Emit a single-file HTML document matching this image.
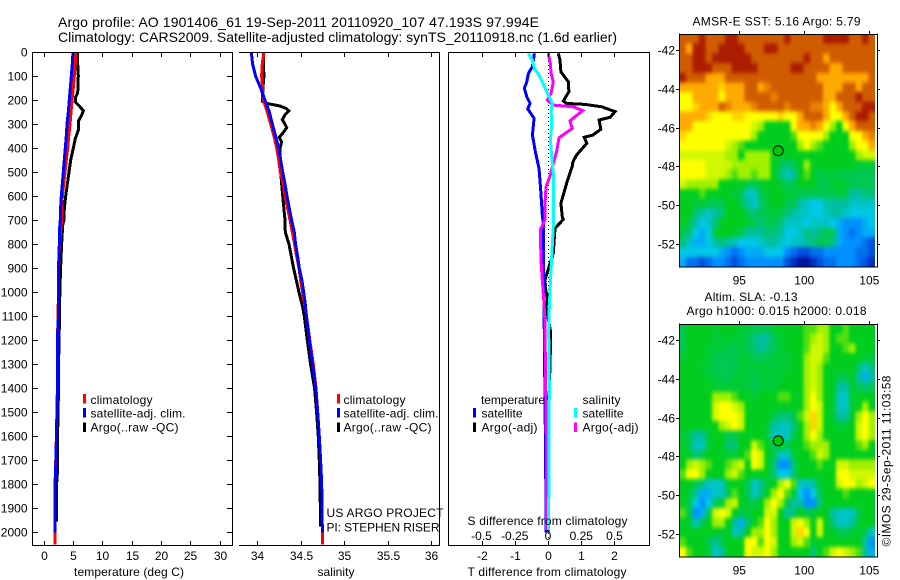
<!DOCTYPE html>
<html>
<head>
<meta charset="utf-8">
<title>Argo profile</title>
<style>
html,body{margin:0;padding:0;background:#fff;}
svg{display:block;font-family:"Liberation Sans",sans-serif;font-size:12px;fill:#000;}
</style>
</head>
<body>
<svg id="fig" xmlns="http://www.w3.org/2000/svg" width="900" height="580" viewBox="0 0 900 580">
<defs>
<filter id="smooth" filterUnits="userSpaceOnUse" x="660" y="10" width="240" height="570" color-interpolation-filters="sRGB">
<feGaussianBlur stdDeviation="1.5 2.2"/>
</filter>
<clipPath id="clip-sst"><rect x="679.5" y="34" width="195.5" height="232.5"/></clipPath>
<clipPath id="clip-sla"><rect x="679.5" y="324" width="195.5" height="232.5"/></clipPath>
</defs>
<rect x="0" y="0" width="900" height="580" fill="#fff"/>
<g id="maps"></g>
<g id="lines"></g>
<g id="axes" shape-rendering="crispEdges" stroke="#000" stroke-width="1" fill="none"></g>
<g id="labels"></g>

<text x="58" y="27" font-size="14" textLength="481" lengthAdjust="spacing">Argo profile: AO 1901406_61 19-Sep-2011 20110920_107 47.193S 97.994E</text>
<text x="58" y="42" font-size="14" textLength="559" lengthAdjust="spacing">Climatology: CARS2009. Satellite-adjusted climatology: synTS_20110918.nc (1.6d earlier)</text>

<text x="74" y="576" textLength="110" lengthAdjust="spacing">temperature (deg C)</text>
<text x="317.5" y="576" textLength="37" lengthAdjust="spacing">salinity</text>
<text x="467.5" y="576" textLength="159" lengthAdjust="spacing">T difference from climatology</text>
<text x="467.5" y="525" textLength="160" lengthAdjust="spacing">S difference from climatology</text>

<g>
<rect x="83" y="394" width="3" height="9.5" fill="#f00"/>
<rect x="83" y="408" width="3" height="9.5" fill="#00f"/>
<rect x="83" y="422.5" width="3" height="9.5" fill="#000"/>
<text x="90.5" y="404" textLength="62" lengthAdjust="spacing">climatology</text>
<text x="90.5" y="417.5" textLength="95" lengthAdjust="spacing">satellite-adj. clim.</text>
<text x="90.5" y="431.5" textLength="88" lengthAdjust="spacing">Argo(..raw -QC)</text>
</g>
<g>
<rect x="337" y="394" width="3" height="9.5" fill="#f00"/>
<rect x="337" y="408" width="3" height="9.5" fill="#00f"/>
<rect x="337" y="422.5" width="3" height="9.5" fill="#000"/>
<text x="343.5" y="404" textLength="62" lengthAdjust="spacing">climatology</text>
<text x="343.5" y="417.5" textLength="95" lengthAdjust="spacing">satellite-adj. clim.</text>
<text x="343.5" y="431.5" textLength="88" lengthAdjust="spacing">Argo(..raw -QC)</text>
</g>
<g>
<text x="481" y="404" textLength="64" lengthAdjust="spacing">temperature</text>
<rect x="473" y="408" width="3" height="9.5" fill="#00f"/>
<rect x="473" y="422.5" width="3" height="9.5" fill="#000"/>
<text x="481.5" y="417.5" textLength="41" lengthAdjust="spacing">satellite</text>
<text x="481.5" y="431.5" textLength="56" lengthAdjust="spacing">Argo(-adj)</text>
<text x="582.5" y="404" textLength="38" lengthAdjust="spacing">salinity</text>
<rect x="574" y="408" width="3" height="9.5" fill="#0ff"/>
<rect x="574" y="422.5" width="3" height="9.5" fill="#f0f"/>
<text x="582.5" y="417.5" textLength="41" lengthAdjust="spacing">satellite</text>
<text x="582.5" y="431.5" textLength="56" lengthAdjust="spacing">Argo(-adj)</text>
</g>
<text x="326.5" y="517" textLength="117" lengthAdjust="spacing">US ARGO PROJECT</text>
<text x="326.5" y="531.5" textLength="113" lengthAdjust="spacing">PI: STEPHEN RISER</text>

<text x="692.5" y="25.5" textLength="168" lengthAdjust="spacing">AMSR-E SST: 5.16 Argo: 5.79</text>
<text x="704.5" y="301" textLength="93" lengthAdjust="spacing">Altim. SLA: -0.13</text>
<text x="686.5" y="315" textLength="180" lengthAdjust="spacing">Argo h1000: 0.015 h2000: 0.018</text>
<text transform="translate(890.5,546.5) rotate(-90)" x="0" y="0" textLength="171" lengthAdjust="spacing">©IMOS 29-Sep-2011 11:03:58</text>
</svg>

<script>
// ---- temperature panel data ----
var argoTDepth = [0,50,100,170,190,210,225,245,265,285,320,345,360,400,450,500,550,600,650,700,720,800,900,1000,1100,1200,1300,1390,1500,1600,1750,1800,1955];
var argoT = [5.76,5.82,5.93,5.82,5.42,5.48,6.10,6.79,6.45,5.99,5.99,5.65,5.42,5.08,4.63,4.34,4.06,3.78,3.55,3.49,3.27,3.09,2.92,2.78,2.75,2.64,2.58,2.58,2.47,2.41,2.36,2.24,2.19];
var climTDepth = [0,50,100,150,200,250,300,350,400,450,500,550,600,650,700,800,900,1000,1200,1400,1600,1800,2000,2050];
var climT = [5.54,5.42,5.25,5.08,4.86,4.68,4.51,4.29,4.12,3.89,3.66,3.44,3.21,3.15,3.09,2.75,2.58,2.55,2.38,2.36,2.19,1.98,1.96,1.96];
var satTDepth = [0,50,100,150,200,250,300,350,400,450,500,550,600,650,700,750,800,850,900,1000,1100,1200,1300,1400,1500,1600,1700,1800,1900,2000];
var satT = [5.03,4.91,4.74,4.57,4.40,4.23,4.00,3.89,3.72,3.55,3.38,3.21,3.04,2.92,2.87,2.70,2.70,2.64,2.53,2.53,2.53,2.36,2.36,2.36,2.30,2.19,2.13,1.96,1.96,1.96];

// ---- salinity panel data ----
var argoSDepth = [0,50,100,130,190,205,215,225,235,245,262,282,295,315,335,355,375,400,500,600,700,750,800,900,1000,1060,1100,1200,1300,1400,1500,1600,1700,1800,1975];
var argoS = [34.069,34.069,34.077,34.069,34.058,34.058,34.119,34.261,34.330,34.361,34.319,34.288,34.311,34.338,34.299,34.253,34.280,34.261,34.269,34.292,34.319,34.322,34.365,34.418,34.480,34.522,34.541,34.576,34.614,34.660,34.683,34.702,34.714,34.722,34.729];
var climSDepth = [0,50,100,150,200,250,300,350,400,450,500,550,600,650,700,750,800,850,900,950,1000,1050,1100,1200,1300,1400,1500,1600,1700,1800,1900,2000,2050];
var climS = [34.077,34.058,34.050,34.061,34.069,34.115,34.154,34.192,34.223,34.246,34.265,34.299,34.319,34.349,34.376,34.403,34.430,34.453,34.480,34.499,34.522,34.545,34.568,34.605,34.645,34.676,34.695,34.714,34.729,34.741,34.745,34.749,34.749];
var satSDepth = [0,50,100,150,200,250,300,350,400,450,500,550,600,650,700,750,800,850,900,950,1000,1050,1100,1200,1300,1400,1500,1600,1700,1800,1900,2000];
var satS = [33.931,33.946,33.981,34.038,34.088,34.138,34.173,34.211,34.246,34.269,34.292,34.319,34.342,34.369,34.395,34.426,34.441,34.464,34.484,34.514,34.534,34.553,34.564,34.599,34.637,34.672,34.695,34.714,34.729,34.741,34.745,34.749];

// ---- difference panel data ----
var argoDTDepth = [6,33,83,124,165,204,214,218,228,248,272,283,322,346,355,380,429,457,477,547,630,686,697,734,838,894,949,991,1026,1060,1157,1255,1449,1783,2000];
var argoDT = [0.31,0.36,0.39,0.61,0.63,0.46,0.56,1.11,1.62,2.02,1.87,1.54,1.59,1.35,1.09,1.17,0.86,0.75,0.73,0.56,0.39,0.43,0.46,0.21,0.16,0.03,-0.09,-0.07,-0.01,-0.06,0.07,0.07,0.03,0.02,0];
var satDTDepth = [6,61,89,124,151,186,214,237,276,346,422,484,575,686,713,921,1060,1171,1449,1727,2000];
var satDT = [-0.41,-0.47,-0.59,-0.64,-0.71,-0.64,-0.54,-0.61,-0.42,-0.47,-0.37,-0.27,-0.22,-0.17,-0.14,-0.14,-0.12,-0.11,-0.09,-0.07,-0.06];
var argoDSDepth = [6,47,89,124,172,200,221,228,244,287,318,357,415,477,512,561,644,699,741,866,949,1046,1116,1379,1727,1990];
var argoDS = [0.0025,0.0175,0.023,0.04,0.023,-0.005,0.04,0.19,0.26,0.165,0.183,0.083,0.065,0.033,0.018,-0.015,-0.023,-0.023,-0.058,-0.053,-0.043,-0.03,-0.023,-0.018,-0.01,-0.01];
var satDSDepth = [6,33,68,103,144,179,214,241,297,366,436,505,727,852,991,1088,1171,1379,1727,1990];
var satDS = [-0.148,-0.118,-0.103,-0.06,-0.028,0.0025,0.033,0.023,0.028,0.018,0.028,0.04,0.04,0.028,0.015,0.008,0.005,0.01,0.008,0.003];

// ---- tick labels ----
var depthTicks = [0,100,200,300,400,500,600,700,800,900,1000,1100,1200,1300,1400,1500,1600,1700,1800,1900,2000];
var tempTicks = [0,5,10,15,20,25,30];
var salTicks = [34,34.5,35,35.5,36];
var dTTicks = [-2,-1,0,1,2];
var dSTicks = [-0.5,-0.25,0,0.25,0.5];
var lonTicks = [95,100,105];
var latTicks = [-42,-44,-46,-48,-50,-52];
var floatLon = 97.994;
var floatLat = -47.193;

// ---- SST map: colour-scale level per cell, north to south ----
var sstValues = [
[10,10,10,11,10,10,10,11,11,10,10,10,10,10,10,10,11,10,10,10,10,10,11,11,11,11,10,10,11,10],
[10,9,11,11,10,10,11,11,11,11,10,10,10,11,11,10,10,10,10,10,10,10,10,10,10,10,10,10,10,10],
[10,10,11,11,10,11,11,11,11,11,11,10,10,10,10,10,10,10,10,11,10,10,9,10,10,10,10,10,10,10],
[10,10,11,11,11,10,10,10,11,11,11,11,10,10,10,10,10,11,11,10,10,10,10,9,9,10,10,10,10,10],
[11,10,10,10,9,9,9,10,10,10,10,10,10,10,10,10,10,10,10,10,10,9,9,9,9,9,9,9,9,10],
[9,9,9,9,9,9,8.5,9,9,9,10,10,9,9.5,10,10,10,10,10,10,10,10,9,9,9,10,10,9,10,10],
[8,8,9,9,9,9,8,9,9,9,10,10,10,10,9.5,10,10,10,10,10,10,10,9,9,10,10,10,11,10,10],
[8,8,8.5,9,9,9,10,9.5,9,9,9,9.5,10,10,10,10,9.5,10,10,10,9.5,9.5,9,8,9,10,10,10,11,11],
[9,9,9,9,8.5,8,8,8,8.5,8.5,8,8,8,8,8,8.5,8,8,9,10,10,10,9,8,8,9,10,11,11,10],
[9,9,8,8,8,8,8,8,8,8,8,7.5,7,6,6,6,6,8,9,9,9.5,9,8,7,6,8,9,10,10,10],
[8.5,8,8,8,8,8,8,8,8,8,8,7,6,6,6,6,6,6.5,8,8,8,8,7,6,6,6,8,8,9,9.5],
[8,8,8,8,8,8,8,7.5,7,6.5,6,6,6,6,6,6,6,6,7,8,7,6.5,6,6,6,6,7,8,8,9],
[7.5,7.5,7.5,7.5,7.5,7.5,7.5,7,7,6,7,7,7,7,6,6,6,6,6,6,6,6,6,6,6,6,6,7,7.5,7.5],
[8,8,8,8,7.5,7.5,7.5,7.5,7,7,7,7,7,7,6,5,4.5,5,6,7,6,6,6,6,6,6,6,5.5,5.5,5.5],
[8,8,8,8,7.5,7.5,7.5,7,6.5,7,7,6.5,7,7,6,4.5,3.5,4,6,6.5,6,5,5.5,5.5,5,5,5,5,5,5],
[7.5,7,7,7,7,7,6,6,6,6,5,5,5.5,6,6,5.5,5,5,6,6,6,5,5,5.5,6,5.5,5,5,5,5],
[6,6,6,6.5,6,6,6,6,5.5,5,3.5,3.5,5,5.5,6,6,5.5,5.5,5,5,5,5,5,5,5.5,5,4,4,4.5,4.5],
[6,6,5.5,5.5,5,5,5,6,6,5,4,3.5,4.5,5.5,6,6,5,5,4,3.5,3,3,4,4,4,4,3.5,3.5,3.5,3.5],
[6,6,4.5,4,3.5,4,4.5,6,6,6,5,4.5,5,5,5.5,5,4.5,4,3.5,3.5,3,3,3.5,4,4,3.5,3,3,3,3],
[6,5,4,3,3.5,4.5,6,6,6,6,5.5,5,4.5,5,5,4.5,3.5,3.5,3.5,3,3.5,3.5,3.5,3,2.5,2,2,2,2.5,3],
[5,4.5,3,2.5,3,5.5,6,6,5.5,5,4,4,4,4.5,4.5,4,3,3,3.5,4.5,4,4.5,5,5,2.5,2,1.5,2,2.5,2.5],
[4.5,3.5,2.5,2.5,3,4,4.5,4,3.5,3,3,3,3.5,4,4,3.5,3,3.5,3.5,4,4.5,5,5,4.5,2.5,2,2,2,1.5,1],
[3,3,3,3,3,3,2.5,2,1.5,2,2.5,2.5,2.5,3,3,3,2,1.5,1,1,1.5,1.5,2,2,2,2,2,1.5,1.5,1],
[2.5,1.5,1.5,1,1.5,2,2,1.5,1,1.5,2,2,2,2,2,2,1,0.5,0,0,0.5,1,1.5,1.5,2,2,2,1.5,1,0.5]
];

// ---- sea level anomaly map: colour-scale level per cell, north to south ----
var slaValues = [
[5,6,6,6,6,5.5,6,6,6,5.5,5.5,5,5,5,5.5,6,6,6,6,6.5,6.5,7,7,6,6,6.5,6,6,6,6],
[5,6,6,6,6,5.5,5.5,6,5.5,5.5,5,4.5,4,4,5,5.5,6,6,6,6.5,7,7.5,7,6,6.5,6.5,6,6,6,6],
[5,6,6,6,5.5,5.5,5.5,5,5,5.5,5,4.5,4,4.5,5,5.5,6,6,6,6.5,7.5,7.5,7,6,6,6.5,7,6,6,6],
[5.5,6,6,6,5.5,5,5,5,5,5.5,5.5,5,5,5,5.5,5.5,5.5,6,6,7,7.5,7.5,6.5,6,6,6,6,6,5.5,5.5],
[6,6,6,5.5,5.5,5,5,5,5,5.5,5.5,5.5,5.5,5.5,5.5,5.5,5.5,6,6,7,7.5,7,6,6,6,6,6,4.5,3.5,4.5],
[6,6,6,6,5.5,5.5,5,5,5.5,5.5,5.5,5,5.5,5.5,5.5,5.5,6,6,6,7,7.5,7,6,6,5,5,6,4,2.5,4],
[6,6,6,6,6,5.5,5.5,5.5,5.5,5.5,5.5,5,5.5,5.5,5.5,6,6,6,6,7,7.5,7,6,6,4,4,5.5,5,4.5,5],
[6,6,6,6,6,7,7,7,6.5,6,6,5.5,6,6,6,6.5,6.5,6,6,7,8,7,6,6,3.5,3.5,5.5,6,6,6],
[6,6,6,6,6,7.5,8,8,7.5,7,6,6,6,6,6,6,6,6,6,7,8,7.5,6,5.5,3.5,3.5,5.5,6,7,6],
[6,6,6,6,6,7.5,8,8,8,7.5,6,6,6,6,5,4.5,4.5,5,6.5,7.5,8.5,7.5,6,5.5,4,4,5.5,7,8,7],
[6,6,6,6,6,6,7,7.5,8,7.5,6,6,6,5.5,4,3.5,3.5,4.5,6,7,8.5,7.5,6,6,5.5,5.5,6,7.5,8,7],
[5.5,5,4,4,5.5,6,6,5,5,6,6,6,6,5.5,3.5,3.5,3.5,5,6,7,8,7,6,6,6,6,6,7.5,8,7],
[6,5,3.5,3.5,5.5,6,6,4.5,4.5,6,6,7.5,6.5,6,5,6,5,6,6,6.5,7,7,7,6,6,6,6,6.5,7,6],
[6,5.5,4.5,5,6,6,6,5.5,5.5,6,6.5,8,7.5,6,5,3.5,3.5,5.5,6,6,6.5,7.5,7,6,6,6,6,6,6,6],
[6,7,7.5,7,6.5,6,6,6.5,7,7.5,6,8,7.5,6,4.5,2,2,4.5,6,6,6,6.5,6,6,7.5,7.5,7,7,7,7],
[6.5,8,8,7,6,6,6,7,7.5,6.5,6,6,6,6,4.5,3,3,4.5,6,6,6,6,6,6,8,8,7.5,7.5,7.5,7.5],
[6,6,5,4.5,3.5,3.5,3.5,5.5,6,6,5,3.5,4,5.5,6,7,8,6.5,3.5,3.5,4,5.5,6,6,7.5,8,8,7,7.5,8],
[6,5.5,4,2.5,2.5,3.5,3.5,5,6.5,6,5,3.5,4.5,6,7,8,6.5,5.5,3,2,3,5,6,6,6,6.5,6,6,6,6],
[6,5,3,2,3,5,5.5,7,7.5,6,5.5,5,6,7,8,7,5,4,4,2,2,4.5,6,6,6,6,6,6,6,6],
[6.5,5,2,2.5,5,7.5,8,7.5,6,5,5.5,6,6,7.5,7.5,6,4,4.5,6,5,5.5,6,6,4,3.5,3.5,3.5,5,6,6],
[6,5.5,3.5,5,6,7,7,6,4,2.5,4.5,6,6.5,8,7,6,6,7.5,8,7,6,7.5,6,4.5,3.5,3.5,4,5.5,6,6],
[6,6,6,6,6,6,5.5,6,3.5,4,6,7,7,8,7,6,6,7.5,8.5,8,6,7.5,6,6,5,5,5.5,6,5,3.5],
[6.5,6,6,6,5,4,5,6,6,6,8,8,6.5,8,7.5,6,6,7,7.5,6.5,5.5,6,6,6,6,6,6,6,4,2],
[8,6.5,6,6,5.5,3.5,4,6,6,6,8,7.5,7.5,8,7,6,6,6,6,6,4.5,6,6.5,7.5,8,7.5,7,6.5,4,2.5]
];

var NS = 'http://www.w3.org/2000/svg';
var colorStops = [[0,16,160],[0,80,224],[0,144,255],[0,200,232],[0,192,160],[0,200,80],[0,205,30],[160,240,0],[255,255,0],[255,170,0],[208,92,0],[172,28,0]];

function mk(parent, tag, attrs) {
  var el = document.createElementNS(NS, tag);
  for (var k in attrs) el.setAttribute(k, attrs[k]);
  parent.appendChild(el);
  return el;
}
function levelColor(v) {
  var i = Math.max(0, Math.min(colorStops.length - 2, Math.floor(v)));
  var f = Math.max(0, Math.min(1, v - i));
  var a = colorStops[i], b = colorStops[i + 1];
  return 'rgb(' + Math.round(a[0] + (b[0] - a[0]) * f) + ',' + Math.round(a[1] + (b[1] - a[1]) * f) + ',' + Math.round(a[2] + (b[2] - a[2]) * f) + ')';
}

// axis functions
function yDepth(d) { return 52 + d * 0.2402; }
function xTemp(t) { return 43.5 + t * 5.87; }
function xSal(s) { return 257.3 + (s - 34) * 86.85; }
function xDT(t) { return 548 + t * 33.2; }
function xDS(s) { return 548 + s * 133; }
function xLon(lon) { return 739.3 + (lon - 95) * 13; }

var linesG = document.getElementById('lines');
var axesG = document.getElementById('axes');
var labelsG = document.getElementById('labels');
var mapsG = document.getElementById('maps');

function drawProfile(name, depths, values, xFn, color, width) {
  var pts = [];
  for (var i = 0; i < values.length; i++) pts.push(xFn(values[i]).toFixed(1) + ',' + yDepth(depths[i]).toFixed(1));
  var el = mk(linesG, 'polyline', {points: pts.join(' '), fill: 'none', stroke: color, 'stroke-width': width, 'shape-rendering': 'crispEdges', 'stroke-linejoin': 'miter'});
  
  
}
function axisLine(name, x1, y1, x2, y2) {
  var el = mk(axesG, 'line', {x1: x1, y1: y1, x2: x2, y2: y2});
  
  
}
function label(name, txt, x, y, anchor) {
  var el = mk(labelsG, 'text', {x: x, y: y, 'text-anchor': anchor});
  el.textContent = txt;
  
  
}

// zero reference line in difference panel
var zeroLine = mk(linesG, 'line', {x1: 548.5, y1: 53, x2: 548.5, y2: 545, stroke: '#000', 'stroke-width': 1, 'stroke-dasharray': '1 3', 'shape-rendering': 'crispEdges'});



drawProfile('temperature-argo-line', argoTDepth, argoT, xTemp, '#000', 3);
drawProfile('temperature-climatology-line', climTDepth, climT, xTemp, '#f00', 3);
drawProfile('temperature-satellite-line', satTDepth, satT, xTemp, '#00f', 3);
drawProfile('salinity-argo-line', argoSDepth, argoS, xSal, '#000', 3);
drawProfile('salinity-climatology-line', climSDepth, climS, xSal, '#f00', 3);
drawProfile('salinity-satellite-line', satSDepth, satS, xSal, '#00f', 3);
drawProfile('t-diff-argo-line', argoDTDepth, argoDT, xDT, '#000', 3);
drawProfile('t-diff-satellite-line', satDTDepth, satDT, xDT, '#00f', 3);
drawProfile('s-diff-argo-line', argoDSDepth, argoDS, xDS, '#f0f', 3);
drawProfile('s-diff-satellite-line', satDSDepth, satDS, xDS, '#0ff', 3);

// frames
axisLine('temp-panel-left', 32.5, 52, 32.5, 546);
axisLine('temp-panel-right', 232.5, 52, 232.5, 546);
axisLine('temp-panel-top', 32, 52.5, 233, 52.5);
axisLine('temp-panel-bottom', 32, 545.5, 233, 545.5);
axisLine('sal-panel-right', 439.5, 52, 439.5, 546);
axisLine('sal-panel-top', 239, 52.5, 440, 52.5);
axisLine('sal-panel-bottom', 239, 545.5, 440, 545.5);
axisLine('diff-panel-left', 448.5, 52, 448.5, 546);
axisLine('diff-panel-right', 649.5, 52, 649.5, 546);
axisLine('diff-panel-top', 448, 52.5, 650, 52.5);
axisLine('diff-panel-bottom', 448, 545.5, 650, 545.5);

// depth ticks
depthTicks.forEach(function (d) {
  var y = Math.round(yDepth(d)) + 0.5;
  axisLine('depth-tick-left', 33, y, 38, y);
  axisLine('depth-tick-right', 227, y, 232, y);
  label('depth-tick-label', String(d), 27.5, y + 4, 'end');
});
tempTicks.forEach(function (t) {
  var x = Math.round(xTemp(t)) + 0.5;
  axisLine('temp-tick-top', x, 53, x, 57);
  axisLine('temp-tick-bottom', x, 541, x, 545);
  label('temp-tick-label', String(t), x, 560, 'middle');
});
salTicks.forEach(function (s) {
  var x = Math.round(xSal(s)) + 0.5;
  axisLine('sal-tick-top', x, 53, x, 57);
  axisLine('sal-tick-bottom', x, 541, x, 545);
  label('sal-tick-label', String(s), x, 560, 'middle');
});
dTTicks.forEach(function (t) {
  var x = Math.round(xDT(t)) + 0.5;
  axisLine('t-diff-tick-top', x, 53, x, 57);
  axisLine('t-diff-tick-bottom', x, 541, x, 545);
  label('t-diff-tick-label', String(t), x, 560, 'middle');
});
dSTicks.forEach(function (s) {
  label('s-diff-tick-label', String(s), xDS(s), 540, 'middle');
});

// maps
function drawMap(name, values, y42, top, bottom) {
  var left = 679.5, right = 875;
  var pad = 12;
  var yLat = function (lat) { return y42 + (-42 - lat) * 19.4; };
  var rows = values.length, cols = values[0].length;
  var cw = (right - left) / cols, ch = (bottom - top) / rows;
  var clip = mk(mapsG, 'g', {'clip-path': 'url(#clip-' + name + ')'});
  
  
  var g = mk(clip, 'g', {'shape-rendering': 'crispEdges', filter: 'url(#smooth)'});
  
  
  for (var r = 0; r < rows; r++) {
    for (var c = 0; c < cols; c++) {
      // outermost cells extend past the clip so smoothing stays solid at the edges
      var x0 = left + c * cw - (c === 0 ? pad : 0);
      var y0 = top + r * ch - (r === 0 ? pad : 0);
      var x1 = left + (c + 1) * cw + (c === cols - 1 ? pad : 0.6);
      var y1 = top + (r + 1) * ch + (r === rows - 1 ? pad : 0.6);
      var cell = mk(g, 'rect', {x: x0.toFixed(2), y: y0.toFixed(2), width: (x1 - x0).toFixed(2), height: (y1 - y0).toFixed(2), fill: levelColor(values[r][c])});
      
      
    }
  }
  axisLine(name + '-frame-left', 679.5, top - 0.5, 679.5, bottom + 1);
  axisLine(name + '-frame-right', 877.5, top - 0.5, 877.5, bottom + 1);
  axisLine(name + '-frame-top', 679, top + 0.5, 878, top + 0.5);
  axisLine(name + '-frame-bottom', 679, bottom + 0.5, 878, bottom + 0.5);
  lonTicks.forEach(function (lon) {
    var x = Math.round(xLon(lon)) + 0.5;
    axisLine(name + '-lon-tick', x, top - 3, x, top);
    label(name + '-lon-label', String(lon), xLon(lon), bottom + 18, 'middle');
  });
  latTicks.forEach(function (lat) {
    var y = Math.round(yLat(lat)) + 0.5;
    axisLine(name + '-lat-tick-left', 676, y, 679, y);
    axisLine(name + '-lat-tick-right', 878, y, 880, y);
    label(name + '-lat-label', String(lat), 675, y + 4, 'end');
  });
  var marker = mk(mapsG, 'circle', {cx: xLon(floatLon), cy: yLat(floatLat), r: 5, fill: '#00c800', stroke: '#000', 'stroke-width': 1});
  
  
}
drawMap('sst', sstValues, 50, 34, 266.5);
drawMap('sla', slaValues, 340, 324, 556.5);
</script>
</body>
</html>
